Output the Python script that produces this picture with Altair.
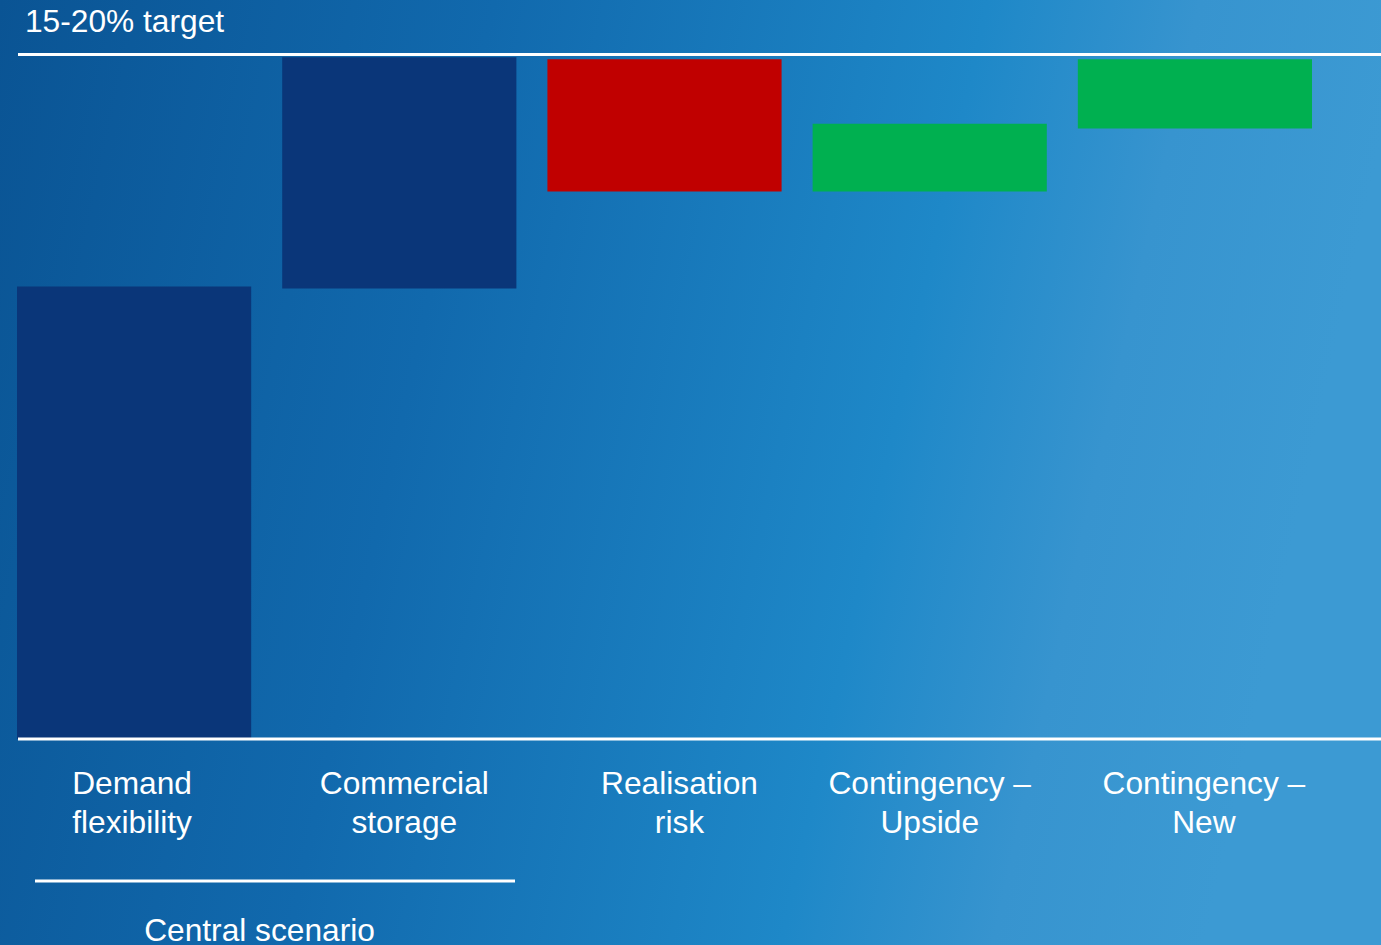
import altair as alt
import pandas as pd

# ---- data ----
categories = ["Demand flexibility", "Commercial storage", "Realisation risk",
              "Contingency – Upside", "Contingency – New"]
label_lines = ["Demand\nflexibility", "Commercial\nstorage", "Realisation\nrisk",
               "Contingency –\nUpside", "Contingency –\nNew"]
bar_start = [0.0, 65.8, 99.3, 80.0, 89.2]
bar_end = [66.1, 99.6, 80.0, 89.9, 99.3]
bar_colors = ["#0a3679", "#0a3679", "#c00000", "#00b050", "#00b050"]
target_value = 100
baseline_value = 0
target_label = "15-20% target"
group_label = "Central scenario"

# label nudges (style, in pixels) relative to each bar's centre
label_dx = [-2, 5, 15, 0, 9]

W, H = 1381, 945

bars_df = pd.DataFrame({"category": categories, "start": bar_start,
                        "end": bar_end, "color": bar_colors, "label": label_lines})

xscale = alt.Scale(domain=categories, range=[17, 1312], paddingInner=0.117, paddingOuter=0)
yscale = alt.Scale(domain=[0, 100], range=[739, 54.5], nice=False, zero=False)

FONT = "Liberation Sans"

grad = alt.LinearGradient(
    gradient="linear",
    stops=[
        alt.GradientStop(color="#0a5494", offset=0),
        alt.GradientStop(color="#1169ad", offset=0.35),
        alt.GradientStop(color="#1e88c8", offset=0.7),
        alt.GradientStop(color="#3794cf", offset=0.85),
        alt.GradientStop(color="#3c9ad3", offset=1),
    ],
    x1=0, y1=0, x2=1, y2=0.15,
)

one = pd.DataFrame({"a": [0]})

background = alt.Chart(one).mark_rect(fill=grad, strokeWidth=0).encode(
    x=alt.value(0), x2=alt.value(W), y=alt.value(0), y2=alt.value(H)
)

bars = alt.Chart(bars_df).mark_bar(strokeWidth=0).encode(
    x=alt.X("category:N", scale=xscale, sort=categories, axis=None),
    y=alt.Y("start:Q", scale=yscale, axis=None),
    y2="end:Q",
    color=alt.Color("color:N", scale=None, legend=None),
)

lines_df = pd.DataFrame({"v": [target_value, baseline_value]})
hlines = alt.Chart(lines_df).mark_rule(color="white", strokeWidth=3).encode(
    y=alt.Y("v:Q", scale=yscale, axis=None),
    x=alt.value(18), x2=alt.value(W),
)

label_layers = []
for cat, dx in zip(categories, label_dx):
    label_layers.append(
        alt.Chart(bars_df).transform_filter(alt.datum.category == cat).mark_text(
            color="white", font=FONT, fontSize=31.7, align="center", baseline="alphabetic",
            lineBreak="\n", lineHeight=38.5, dx=dx,
        ).encode(
            x=alt.X("category:N", scale=xscale, sort=categories, axis=None),
            y=alt.value(794),
            text="label:N",
        )
    )

title_df = pd.DataFrame({"t": [target_label]})
title_text = alt.Chart(title_df).mark_text(
    color="white", font=FONT, fontSize=31.7, align="left", baseline="alphabetic",
).encode(x=alt.value(25), y=alt.value(32), text="t:N")

group_line = alt.Chart(one).mark_rule(color="white", strokeWidth=3).encode(
    x=alt.value(35), x2=alt.value(515), y=alt.value(881)
)

group_df = pd.DataFrame({"t": [group_label]})
group_text = alt.Chart(group_df).mark_text(
    color="white", font=FONT, fontSize=31.7, align="center", baseline="alphabetic",
).encode(x=alt.value(259.5), y=alt.value(941), text="t:N")

chart = alt.layer(
    background, bars, hlines, *label_layers, title_text, group_line, group_text
).properties(
    width=W, height=H, padding=0,
    autosize=alt.AutoSizeParams(type="none"),
).configure_view(stroke=None).configure(background="#1470b4")

chart.save("out.html", embed_options={"renderer": "svg", "actions": False})
